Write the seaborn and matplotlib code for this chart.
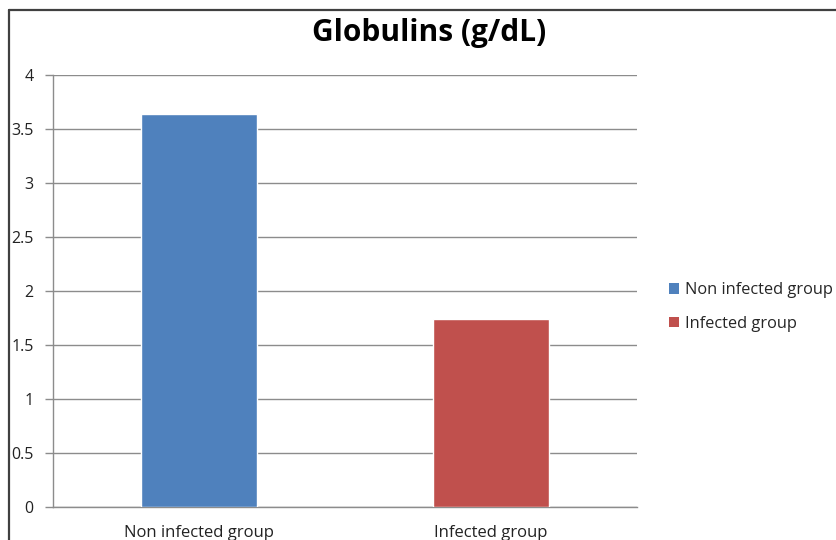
import matplotlib
matplotlib.use("Agg")
import matplotlib.pyplot as plt
from matplotlib.lines import Line2D
from matplotlib.patches import Patch
import seaborn as sns
import pandas as pd

groups = ["Non infected group", "Infected group"]
globulins = [3.64, 1.74]
bar_colors = ["#4F81BD", "#C0504D"]
y_ticks = [0, 0.5, 1, 1.5, 2, 2.5, 3, 3.5, 4]
y_tick_labels = ["0", "0.5", "1", "1.5", "2", "2.5", "3", "3.5", "4"]

sns.set_theme(style="white")
plt.rcParams["font.family"] = ["Open Sans", "DejaVu Sans"]

W, H = 836, 540
fig = plt.figure(figsize=(W / 100, H / 100), dpi=100)
fig.patch.set_facecolor("white")

# plot area in pixel coordinates
x0, x1, ytop, ybot = 53, 637, 75, 507
ax = fig.add_axes([x0 / W, (H - ybot) / H, (x1 - x0) / W, (ybot - ytop) / H])

df = pd.DataFrame({"group": groups, "value": globulins})
sns.barplot(data=df, x="group", y="value", hue="group", palette=bar_colors,
            width=0.4, dodge=False, legend=False, ax=ax, saturation=1,
            zorder=3)

ax.set_xlim(-0.5, 1.5)
ax.set_ylim(0, 4)
ax.set_yticks(y_ticks)
ax.set_yticklabels(y_tick_labels, fontsize=11.5, color="#222222")
ax.yaxis.grid(True, color="#8c8c8c", linewidth=1)
ax.set_axisbelow(True)
ax.set_xlabel("")
ax.set_ylabel("")

ax.set_xticks([0, 1])
ax.set_xticklabels(groups, fontsize=12, color="#222222")
ax.set_xticks([-0.5, 0.5, 1.5], minor=True)
ax.tick_params(axis="x", which="major", length=0, pad=13)
ax.tick_params(axis="x", which="minor", length=5, width=1, color="#8c8c8c", direction="out")
ax.tick_params(axis="y", length=6, width=1, color="#8c8c8c", direction="out", left=True, pad=8)

for side in ["top", "right"]:
    ax.spines[side].set_visible(False)
for side in ["left", "bottom"]:
    ax.spines[side].set_color("#8c8c8c")
    ax.spines[side].set_linewidth(1)

fig.text(429 / W, 1 - 33 / H, "Globulins (g/dL)", ha="center", va="center",
         fontsize=21.5, fontweight="bold", color="black")

handles = [Patch(facecolor=c, edgecolor="none") for c in bar_colors]
fig.legend(handles, groups, loc="center left", bbox_to_anchor=(669 / W, 1 - 307 / H),
           frameon=False, fontsize=11.8, handlelength=0.6, handleheight=0.6,
           handletextpad=0.35, labelspacing=1.05, borderaxespad=0, borderpad=0)

# outer chart frame (top and left edges)
fig.add_artist(Line2D([9 / W, 9 / W], [0, 1 - 10 / H], transform=fig.transFigure,
                      color="#404040", linewidth=1.6))
fig.add_artist(Line2D([9 / W, 1], [1 - 10 / H, 1 - 10 / H], transform=fig.transFigure,
                      color="#404040", linewidth=1.6))

fig.savefig("out.png", dpi=100)
